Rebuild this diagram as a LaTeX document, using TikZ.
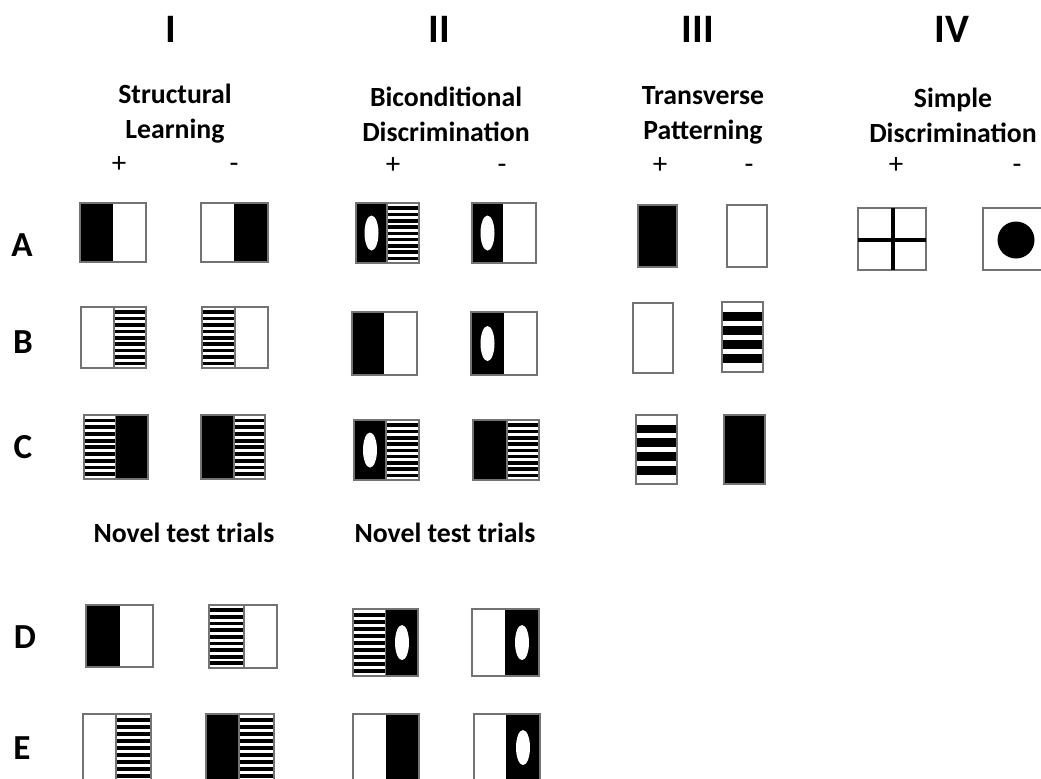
\documentclass[tikz,border=0pt]{standalone}
\usepackage{fontspec}
\setmainfont{Carlito}
\usepackage{tikz}

% half of a stimulus card: w = white, b = black, s = fine stripes, e = black with oval
\newcommand{\halfw}[4]{}
\newcommand{\halfb}[4]{\fill (#1,#2) rectangle (#3,#4);}
\newcommand{\halfs}[4]{\foreach \k in {0,...,8}{\fill (#1,{#2+(0.055+0.105*\k)*(#4-#2)}) rectangle (#3,{#2+(0.115+0.105*\k)*(#4-#2)});}\draw[frame] (#1,#2) rectangle (#3,#4);}
\newcommand{\halfe}[4]{\halfb{#1}{#2}{#3}{#4}\fill[white] ({(#1+#3)/2},{(#2+#4)/2}) ellipse (7 and 17.5);}
\newcommand{\stimcard}[7]{\csname half#6\endcsname{#1}{#2}{#5}{#4}\csname half#7\endcsname{#5}{#2}{#3}{#4}\draw[frame] (#1,#2) rectangle (#3,#4);}
\newcommand{\tpbands}[4]{\foreach \k in {0,...,3}{\fill (#1,{#2+(0.14+0.2*\k)*(#4-#2)}) rectangle (#3,{#2+(0.265+0.2*\k)*(#4-#2)});}\draw[frame] (#1,#2) rectangle (#3,#4);}

\begin{document}
\begin{tikzpicture}[x=0.02cm,y=-0.02cm,line cap=round,
  frame/.style={draw=black!55,line width=0.7pt},
  numeral/.style={inner sep=0pt,font=\fontsize{23}{26}\selectfont\bfseries},
  head/.style={inner sep=0pt,align=center,font=\fontsize{15.8}{19.9}\selectfont\bfseries},
  sign/.style={inner sep=0pt,anchor=base,font=\fontsize{16.5}{19}\selectfont},
  rowlabel/.style={inner sep=0pt,font=\fontsize{20}{24}\selectfont\bfseries}]
\useasboundingbox (0,0) rectangle (1041,778);
\clip (0,0) rectangle (1041,778);
% column titles
\node[numeral] (numI) at (171,29) {I};
\node[numeral] (numII) at (439,29) {II};
\node[numeral] (numIII) at (698,29) {III};
\node[numeral] (numIV) at (952,29) {IV};
\node[head] (headI) at (175,114) {Structural\\Learning};
\node[head] (headII) at (446,114) {Biconditional\\Discrimination};
\node[head] (headIII) at (703,115) {Transverse\\Patterning};
\node[head] (headIV) at (953,115) {Simple\\Discrimination};
\node[sign] (plusI) at (119,172) {+};
\node[sign] (minusI) at (234,172) {-};
\node[sign] (plusII) at (393,173) {+};
\node[sign] (minusII) at (502,173) {-};
\node[sign] (plusIII) at (660,173) {+};
\node[sign] (minusIII) at (749,173) {-};
\node[sign] (plusIV) at (896,173) {+};
\node[sign] (minusIV) at (1017,173) {-};
% row letters
\node[rowlabel] (rowA) at (22,245) {A};
\node[rowlabel] (rowB) at (23,342) {B};
\node[rowlabel] (rowC) at (23,447) {C};
\node[rowlabel] (rowD) at (25,637) {D};
\node[rowlabel] (rowE) at (22,748) {E};
\node[head] (novelI) at (184,533) {Novel test trials};
\node[head] (novelII) at (445,533) {Novel test trials};
% row A
\stimcard{80}{203}{146}{262}{113}{b}{w}
\stimcard{201}{203}{268}{262}{234}{w}{b}
\stimcard{356}{203}{419}{263}{387}{e}{s}
\stimcard{472}{203}{536}{263}{503}{e}{w}
\fill (638,205) rectangle (677,267);
\draw[frame] (638,205) rectangle (677,267);
\draw[frame] (727,205) rectangle (767,267);
\draw[frame] (858,208) rectangle (926,270);
\draw[line width=2.3pt,line cap=butt] (893,208) -- (893,270);
\draw[line width=2.3pt,line cap=butt] (858,240) -- (926,240);
\draw[frame] (983,208) rectangle (1050,270);
\fill (1016,240) circle (18.5);
% row B
\stimcard{81}{307}{146}{368}{114}{w}{s}
\stimcard{202}{307}{268}{368}{235}{s}{w}
\stimcard{352}{312}{417}{375}{384}{b}{w}
\stimcard{471}{312}{537}{375}{504}{e}{w}
\draw[frame] (633,303) rectangle (673,373);
\tpbands{722}{302}{763}{372}
% row C
\stimcard{84}{415}{148}{479}{116}{s}{b}
\stimcard{201}{415}{265}{479}{234}{b}{s}
\stimcard{354}{420}{419}{480}{386}{e}{s}
\stimcard{473}{420}{539}{480}{507}{b}{s}
\tpbands{636}{415}{677}{484}
\fill (724,415) rectangle (765,484);
\draw[frame] (724,415) rectangle (765,484);
% row D
\stimcard{86}{605}{153}{667}{120}{b}{w}
\stimcard{209}{605}{277}{668}{244}{s}{w}
\stimcard{353}{609}{418}{676}{386}{s}{e}
\stimcard{472}{609}{539}{676}{505}{w}{e}
% row E
\stimcard{83}{714}{151}{781}{116}{w}{s}
\stimcard{206}{714}{274}{781}{239}{b}{s}
\stimcard{353}{714}{419}{781}{386}{w}{b}
\stimcard{474}{714}{540}{781}{506}{w}{e}
\end{tikzpicture}
\end{document}
